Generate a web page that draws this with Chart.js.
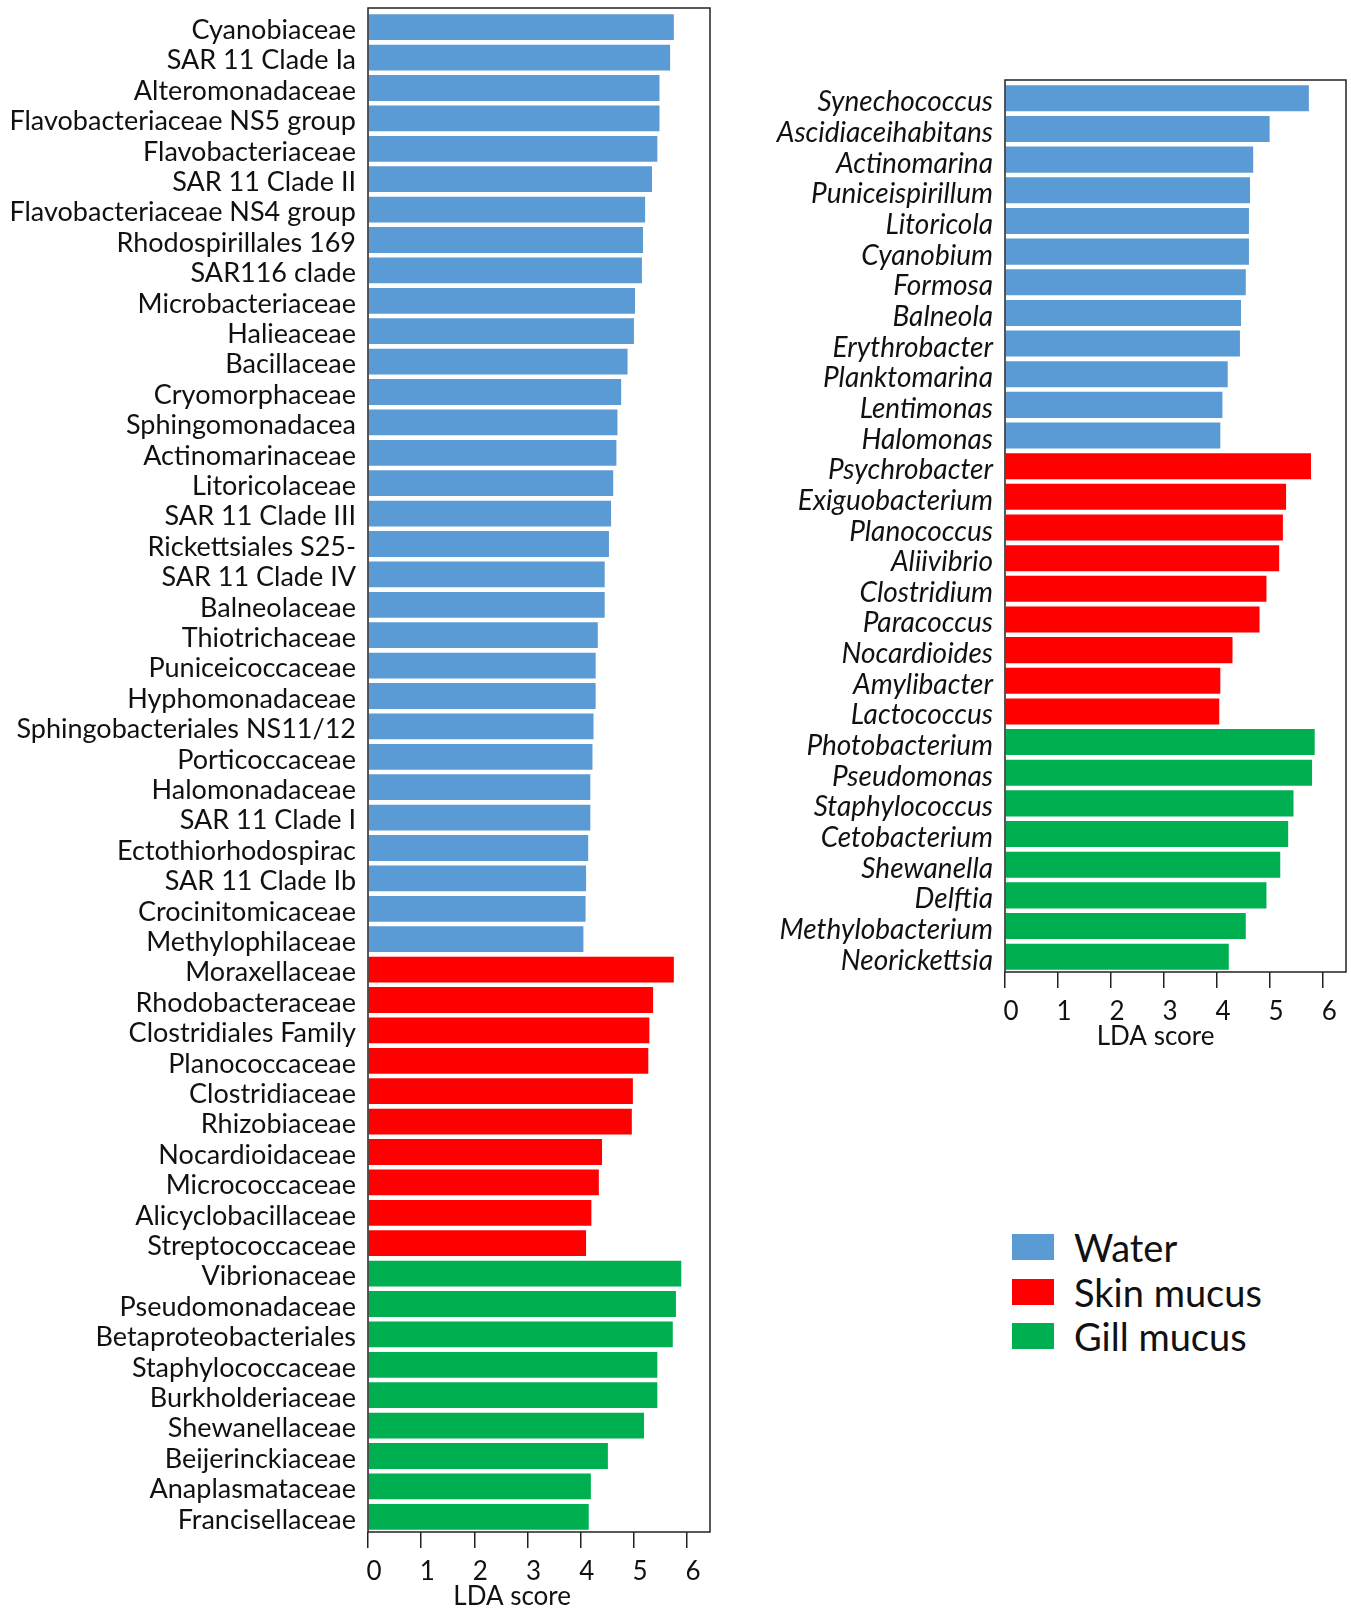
<!DOCTYPE html>
<html>
<head>
<meta charset="utf-8">
<script src="https://cdn.jsdelivr.net/npm/chart.js@4.4.1/dist/chart.umd.min.js"></script>
<style>
  body { margin: 0; background: #fff; width: 1351px; height: 1611px; position: relative; overflow: hidden; font-family: Lato, sans-serif; }
  canvas { position: absolute; }
  #familyChart { left: 0; top: 0; }
  #genusChart { left: 740px; top: 0; }
  .legend { position: absolute; left: 1012px; top: 1225px; }
  .legend-row { display: flex; align-items: center; height: 44.5px; font-size: 38px; color: #111; }
  .swatch { display: inline-block; width: 42px; height: 26px; margin-right: 20px; }
</style>
</head>
<body>
<canvas id="familyChart" width="712" height="1611"></canvas>
<canvas id="genusChart" width="611" height="1053"></canvas>
<div class="legend" id="legend"></div>

<script>
// ---- data ----
const familyWaterLabels = [
    'Cyanobiaceae', 'SAR 11 Clade Ia', 'Alteromonadaceae', 'Flavobacteriaceae NS5 group',
    'Flavobacteriaceae', 'SAR 11 Clade II', 'Flavobacteriaceae NS4 group', 'Rhodospirillales 169',
    'SAR116 clade', 'Microbacteriaceae', 'Halieaceae', 'Bacillaceae', 'Cryomorphaceae',
    'Sphingomonadacea', 'Actinomarinaceae', 'Litoricolaceae', 'SAR 11 Clade III',
    'Rickettsiales S25-', 'SAR 11 Clade IV', 'Balneolaceae', 'Thiotrichaceae',
    'Puniceicoccaceae', 'Hyphomonadaceae', 'Sphingobacteriales NS11/12', 'Porticoccaceae',
    'Halomonadaceae', 'SAR 11 Clade I', 'Ectothiorhodospirac', 'SAR 11 Clade Ib',
    'Crocinitomicaceae', 'Methylophilaceae'
];
const familyWaterScores = [
    5.75, 5.68, 5.48, 5.48, 5.44, 5.34, 5.21, 5.17, 5.15, 5.02, 5.00, 4.88, 4.76,
    4.69, 4.67, 4.61, 4.57, 4.53, 4.45, 4.45, 4.32, 4.28, 4.28, 4.24, 4.22,
    4.18, 4.18, 4.14, 4.10, 4.09, 4.05
];

const familySkinLabels = [
    'Moraxellaceae', 'Rhodobacteraceae', 'Clostridiales Family', 'Planococcaceae',
    'Clostridiaceae', 'Rhizobiaceae', 'Nocardioidaceae', 'Micrococcaceae',
    'Alicyclobacillaceae', 'Streptococcaceae'
];
const familySkinScores = [5.75, 5.36, 5.29, 5.27, 4.98, 4.96, 4.40, 4.34, 4.20, 4.10];

const familyGillLabels = [
    'Vibrionaceae', 'Pseudomonadaceae', 'Betaproteobacteriales', 'Staphylococcaceae',
    'Burkholderiaceae', 'Shewanellaceae', 'Beijerinckiaceae', 'Anaplasmataceae', 'Francisellaceae'
];
const familyGillScores = [5.89, 5.79, 5.73, 5.44, 5.44, 5.19, 4.51, 4.19, 4.15];

const genusWaterLabels = [
    'Synechococcus', 'Ascidiaceihabitans', 'Actinomarina', 'Puniceispirillum', 'Litoricola',
    'Cyanobium', 'Formosa', 'Balneola', 'Erythrobacter', 'Planktomarina', 'Lentimonas', 'Halomonas'
];
const genusWaterScores = [5.73, 4.99, 4.68, 4.62, 4.60, 4.60, 4.54, 4.45, 4.43, 4.20, 4.10, 4.06];

const genusSkinLabels = [
    'Psychrobacter', 'Exiguobacterium', 'Planococcus', 'Aliivibrio', 'Clostridium',
    'Paracoccus', 'Nocardioides', 'Amylibacter', 'Lactococcus'
];
const genusSkinScores = [5.77, 5.30, 5.24, 5.17, 4.93, 4.80, 4.29, 4.06, 4.04];

const genusGillLabels = [
    'Photobacterium', 'Pseudomonas', 'Staphylococcus', 'Cetobacterium', 'Shewanella',
    'Delftia', 'Methylobacterium', 'Neorickettsia'
];
const genusGillScores = [5.84, 5.79, 5.44, 5.34, 5.19, 4.93, 4.54, 4.22];

const ldaTicks = [0, 1, 2, 3, 4, 5, 6];
const groupNames = ['Water', 'Skin mucus', 'Gill mucus'];
const groupColors = ['#5B9BD5', '#FF0000', '#00B050'];


// draws the closed frame round the plot area
const frameBox = {
    id: 'frameBox',
    afterDatasetsDraw(chart, args, opts) {
        const { ctx, chartArea } = chart;
        const extra = opts.extraTop || 0;
        ctx.save();
        ctx.strokeStyle = '#222';
        ctx.lineWidth = 1.5;
        ctx.strokeRect(
            chartArea.left,
            chartArea.top - extra,
            chartArea.right - chartArea.left,
            chartArea.bottom - chartArea.top + extra
        );
        ctx.restore();
    }
};

// x axis caption, placed on the LDA scale
const axisCaption = {
    id: 'axisCaption',
    afterDraw(chart, args, opts) {
        const { ctx, chartArea, scales } = chart;
        ctx.save();
        ctx.fillStyle = '#111';
        ctx.font = '26px Lato';
        ctx.textAlign = 'center';
        ctx.textBaseline = 'middle';
        ctx.fillText(
            opts.text,
            scales.x.getPixelForValue(opts.at),
            chartArea.bottom + opts.offset
        );
        ctx.restore();
    }
};


function makeLdaChart(id, groups, cfg) {

    const labels = [];
    const values = [];
    const colors = [];

    groups.forEach((g, i) => {
        g.labels.forEach((lab, j) => {
            labels.push(lab);
            values.push(g.scores[j]);
            colors.push(groupColors[i]);
        });
    });

    return new Chart(document.getElementById(id), {

        type: 'bar',

        data: {
            labels,
            datasets: [{
                data: values,
                backgroundColor: colors,
                borderWidth: 0,
                barPercentage: 0.85,
                categoryPercentage: 1
            }]
        },

        plugins: [frameBox, axisCaption],

        options: {
            indexAxis: 'y',
            responsive: false,
            animation: false,
            devicePixelRatio: 1,

            layout: {
                padding: cfg.padding
            },

            plugins: {
                legend: { display: false },
                tooltip: { enabled: false },
                frameBox: { extraTop: cfg.extraTop },
                axisCaption: { text: 'LDA score', at: cfg.captionAt, offset: 65 }
            },

            scales: {

                x: {
                    type: 'linear',
                    min: 0,
                    max: 6.43,
                    afterBuildTicks: s => {
                        s.ticks = ldaTicks.map(v => ({ value: v }));
                    },
                    afterFit: s => {
                        s.height = cfg.xHeight;
                    },
                    grid: {
                        drawOnChartArea: false,
                        drawTicks: true,
                        tickLength: 16,
                        color: '#222',
                        lineWidth: 1.5
                    },
                    border: { display: false },
                    ticks: {
                        color: '#111',
                        padding: 8,
                        labelOffset: 6,
                        maxRotation: 0,
                        font: { family: 'Lato', size: 26 }
                    }
                },

                y: {
                    type: 'category',
                    afterFit: s => {
                        s.width = cfg.yWidth;
                        s.paddingTop = 0;
                        s.paddingBottom = 0;
                    },
                    grid: { display: false, drawTicks: false },
                    border: { display: false },
                    ticks: {
                        autoSkip: false,
                        color: '#111',
                        padding: 12,
                        labelOffset: cfg.labelShift,
                        font: {
                            family: 'Lato',
                            size: cfg.labelSize,
                            style: cfg.italic ? 'italic' : 'normal'
                        }
                    }
                }
            }
        }
    });
}


makeLdaChart('familyChart', [
    { labels: familyWaterLabels, scores: familyWaterScores },
    { labels: familySkinLabels, scores: familySkinScores },
    { labels: familyGillLabels, scores: familyGillScores }
], {
    padding: { top: 12, right: 2, bottom: 0, left: 0 },
    extraTop: 4,
    xHeight: 79,
    yWidth: 368,
    labelSize: 27,
    labelShift: 3,
    captionAt: 2.71,
    italic: false
});

makeLdaChart('genusChart', [
    { labels: genusWaterLabels, scores: genusWaterScores },
    { labels: genusSkinLabels, scores: genusSkinScores },
    { labels: genusGillLabels, scores: genusGillScores }
], {
    padding: { top: 83, right: 5, bottom: 0, left: 0 },
    extraTop: 3,
    xHeight: 81,
    yWidth: 265,
    labelSize: 28,
    labelShift: 4,
    captionAt: 2.84,
    italic: true
});


// shared legend
const legendEl = document.getElementById('legend');
groupNames.forEach((name, i) => {
    const row = document.createElement('div');
    row.className = 'legend-row';
    const sw = document.createElement('span');
    sw.className = 'swatch';
    sw.style.background = groupColors[i];
    const txt = document.createElement('span');
    txt.textContent = name;
    row.appendChild(sw);
    row.appendChild(txt);
    legendEl.appendChild(row);
});
</script>
</body>
</html>
